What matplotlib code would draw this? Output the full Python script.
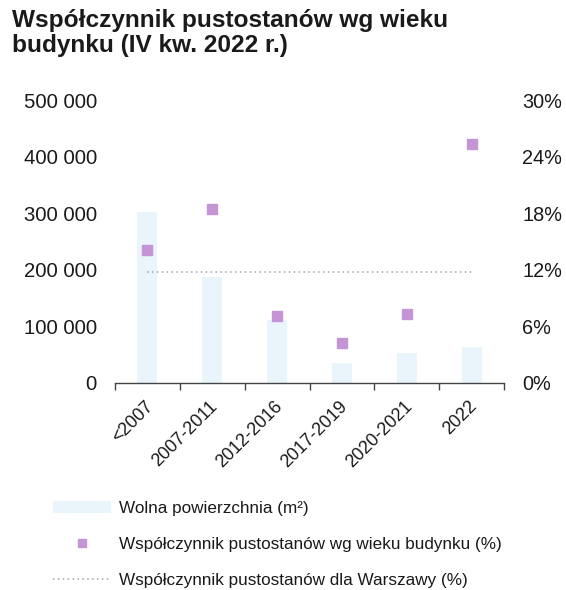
import matplotlib
matplotlib.use("Agg")
import matplotlib.pyplot as plt
from matplotlib.lines import Line2D
from matplotlib.patches import Patch
from matplotlib.ticker import FixedLocator, FuncFormatter
from matplotlib.transforms import ScaledTranslation

plt.rcParams['font.family'] = ['Liberation Sans', 'DejaVu Sans']

categories = ["<2007", "2007-2011", "2012-2016", "2017-2019", "2020-2021", "2022"]
free_space = [302000, 188000, 112000, 35000, 53000, 64000]          # m²
vacancy_by_age = [14.1, 18.4, 7.1, 4.2, 7.3, 25.3]                  # %
vacancy_warsaw = 11.8                                                # %

left_ticks = [0, 100000, 200000, 300000, 400000, 500000]
right_ticks = [0, 6, 12, 18, 24, 30]

bar_color = "#e9f4fb"
marker_color = "#c594d5"
line_color = "#9aa3b5"
text_color = "#1a1a1a"

fig = plt.figure(figsize=(5.66, 5.90), dpi=100)
ax = fig.add_axes([115 / 566, 1 - 383 / 590, (504 - 115) / 566, (383 - 100) / 590])
ax2 = ax.twinx()

x = list(range(len(categories)))
ax.bar(x, free_space, width=0.31, color=bar_color, zorder=1)
ax2.plot(x, vacancy_by_age, linestyle="none", marker="s", markersize=7,
         color=marker_color, zorder=3)
ax2.plot([x[0], x[-1]], [vacancy_warsaw, vacancy_warsaw], linestyle=(0, (1, 2.2)),
         color=line_color, linewidth=1.1, zorder=2)

ax.set_xlim(-0.5, len(categories) - 0.5)
ax.set_ylim(0, 500000)
ax2.set_ylim(0, 30)

for a in (ax, ax2):
    for s in ("top", "left", "right"):
        a.spines[s].set_visible(False)
ax2.spines["bottom"].set_visible(False)
ax.spines["bottom"].set_color("#444444")
ax.spines["bottom"].set_linewidth(1.0)

ax.yaxis.set_major_locator(FixedLocator(left_ticks))
ax.yaxis.set_major_formatter(FuncFormatter(lambda v, p: f"{int(v):,}".replace(",", " ")))
ax2.yaxis.set_major_locator(FixedLocator(right_ticks))
ax2.yaxis.set_major_formatter(FuncFormatter(lambda v, p: f"{int(v)}%"))
ax.tick_params(axis="y", length=0, pad=13, labelsize=14.6, labelcolor=text_color)
ax2.tick_params(axis="y", length=0, pad=13, labelsize=14.3, labelcolor=text_color)

ax.set_xticks(x)
ax.set_xticklabels(categories, rotation=45, ha="right", va="center",
                   rotation_mode="anchor", fontsize=13, color=text_color)
ax.tick_params(axis="x", which="major", length=0, pad=15)
shift = ScaledTranslation(3 / 100, 0, fig.dpi_scale_trans)
for lbl in ax.get_xticklabels():
    lbl.set_transform(lbl.get_transform() + shift)
ax.set_xticks([i - 0.5 for i in range(len(categories) + 1)], minor=True)
ax.tick_params(axis="x", which="minor", length=5, width=1, color="#444444", direction="out")

fig.text(12 / 566, 1 - 9 / 590, "Współczynnik pustostanów wg wieku\nbudynku (IV kw. 2022 r.)",
         ha="left", va="top", fontsize=17.6, fontweight="bold", color=text_color,
         linespacing=1.12)

handles = [
    Patch(facecolor=bar_color, edgecolor="none"),
    Line2D([], [], linestyle="none", marker="s", markersize=6, color=marker_color),
    Line2D([], [], linestyle=(0, (1, 2.2)), color=line_color, linewidth=1.1),
]
labels = [
    "Wolna powierzchnia (m²)",
    "Współczynnik pustostanów wg wieku budynku (%)",
    "Współczynnik pustostanów dla Warszawy (%)",
]
fig.legend(handles, labels, loc="upper left", bbox_to_anchor=(46 / 566, 1 - 494 / 590),
           frameon=False, fontsize=12.3, handlelength=3.4, handletextpad=0.5,
           labelspacing=1.22, numpoints=1, labelcolor=text_color, borderaxespad=0)

fig.savefig("out.png", dpi=100, facecolor="white")
